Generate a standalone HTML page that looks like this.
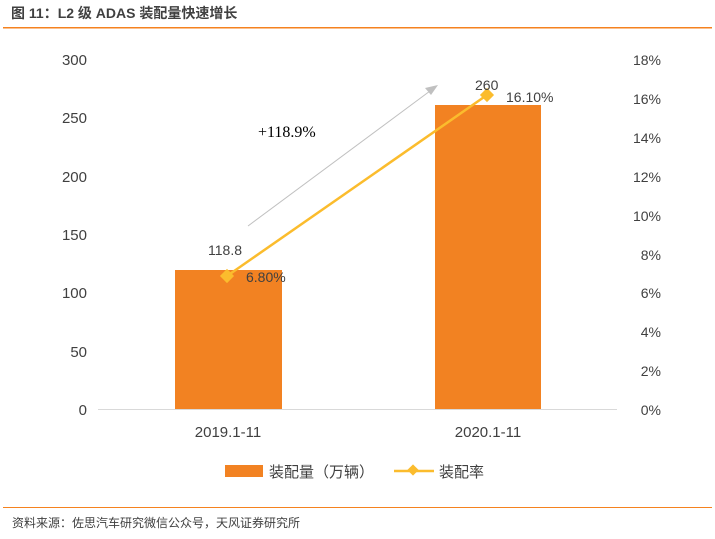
<!DOCTYPE html>
<html><head><meta charset="utf-8"><style>
body{margin:0;background:#fff;}
svg text{font-family:"Liberation Sans","Noto Sans CJK SC",sans-serif;}
</style></head><body>
<svg width="715" height="534" xmlns="http://www.w3.org/2000/svg">
<text x="11" y="18" font-size="14" font-weight="bold" fill="#404040">图 11：L2 级 ADAS 装配量快速增长</text>
<rect x="3" y="27" width="709" height="1.5" fill="#f5821f"/>
<g font-size="15" fill="#404040" text-anchor="end">
<text x="87" y="65">300</text><text x="87" y="123">250</text><text x="87" y="182">200</text>
<text x="87" y="240">150</text><text x="87" y="298">100</text><text x="87" y="357">50</text><text x="87" y="415">0</text>
</g>
<g font-size="14" fill="#404040" text-anchor="end">
<text x="661" y="65">18%</text><text x="661" y="104">16%</text><text x="661" y="143">14%</text>
<text x="661" y="182">12%</text><text x="661" y="221">10%</text><text x="661" y="260">8%</text>
<text x="661" y="298">6%</text><text x="661" y="337">4%</text><text x="661" y="376">2%</text><text x="661" y="415">0%</text>
</g>
<rect x="175" y="270" width="107" height="139" fill="#f28222"/>
<rect x="435" y="105" width="106" height="304" fill="#f28222"/>
<line x1="98" y1="409.5" x2="617" y2="409.5" stroke="#d9d9d9" stroke-width="1"/>
<g font-size="15" fill="#404040" text-anchor="middle">
<text x="228" y="437">2019.1-11</text><text x="488" y="437">2020.1-11</text>
</g>
<line x1="248" y1="226" x2="430" y2="91" stroke="#c0c0c0" stroke-width="1"/>
<polygon points="438,85 425,88 431,95" fill="#c0c0c0"/>
<text x="258" y="137" font-size="16" fill="#000" style="font-family:'Liberation Serif',serif">+118.9%</text>
<line x1="227" y1="276" x2="487" y2="95" stroke="#fbbc2d" stroke-width="2.5"/>
<rect x="222" y="271" width="10" height="10" fill="#fbbc2d" transform="rotate(45 227 276)"/>
<rect x="482" y="90" width="10" height="10" fill="#fbbc2d" transform="rotate(45 487 95)"/>
<g font-size="14" fill="#404040">
<text x="208" y="255">118.8</text><text x="246" y="282">6.80%</text>
<text x="475" y="90">260</text><text x="506" y="102">16.10%</text>
</g>
<rect x="225" y="465" width="38" height="12" fill="#f28222"/>
<text x="269" y="477" font-size="15" fill="#404040">装配量（万辆）</text>
<line x1="394" y1="471" x2="434" y2="471" stroke="#fbbc2d" stroke-width="2.5"/>
<rect x="409" y="466" width="8" height="8" fill="#fbbc2d" transform="rotate(45 413 470)"/>
<text x="439" y="477" font-size="15" fill="#404040">装配率</text>
<rect x="3" y="507" width="709" height="1" fill="#f5821f"/>
<text x="12" y="527" font-size="12" fill="#404040">资料来源：佐思汽车研究微信公众号，天风证券研究所</text>
</svg>
</body></html>
